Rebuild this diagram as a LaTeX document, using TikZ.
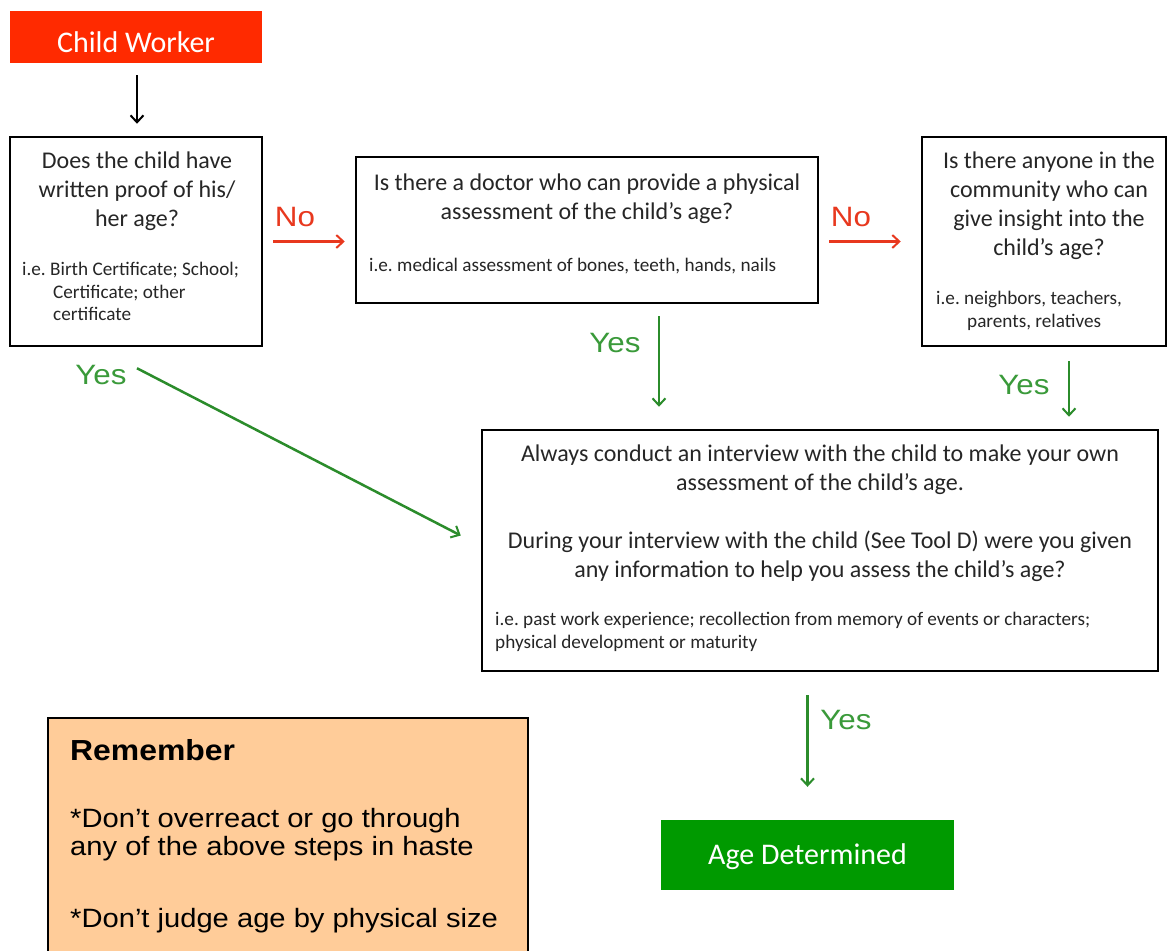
\documentclass[tikz,border=0pt]{standalone}
\usepackage{fontspec}
\setmainfont{Carlito}
\newfontfamily\arialf{Liberation Sans}[FakeStretch=1.1]
\newfontfamily\arialw{Liberation Sans}[FakeStretch=1.12]
\usetikzlibrary{arrows.meta,calc}
\definecolor{cwred}{HTML}{FF2A00}
\definecolor{nored}{HTML}{E8381E}
\definecolor{yesgreen}{HTML}{2B8C2B}
\definecolor{yestext}{HTML}{3A9A3A}
\definecolor{agegreen}{HTML}{009A00}
\definecolor{remfill}{HTML}{FFCC99}
\frenchspacing
\begin{document}
\begin{tikzpicture}[x=1pt,y=-1pt,
  qbox/.style={draw=black,line width=2.5pt,inner sep=0pt,fill=white},
  maintxt/.style={font=\fontsize{24}{29}\selectfont,align=center,inner sep=0pt,anchor=north,text=black!85},
  smalltxt/.style={font=\fontsize{19.2}{22.5}\selectfont,align=left,inner sep=0pt,anchor=north west,text=black!85},
  lab/.style={font=\arialw\fontsize{28}{28}\selectfont,inner sep=0pt},
  nolab/.style={lab,text=nored},
  yeslab/.style={lab,text=yestext},
  tip/.style={-{Straight Barb[length=7pt,width=13pt,line width=2pt]}},
  noarrow/.style={draw=nored,line width=2.5pt,tip},
  yesarrow/.style={draw=yesgreen,line width=2.5pt,tip},
  blackarrow/.style={draw=black,line width=2.5pt,tip},
  remtxt/.style={font=\arialf\fontsize{26.5}{28}\selectfont,align=left,inner sep=0pt,anchor=north west},
  whitetxt/.style={inner sep=0pt,text=white,font=\fontsize{30}{30}\selectfont}
]
\useasboundingbox (0,0) rectangle (1168,951);
\fill[white] (0,0) rectangle (1168,951);

% boxes
\node[fill=cwred,minimum width=252pt,minimum height=52pt,inner sep=0pt] (cw) at (136,37) {};
\node[whitetxt] (cwt) at (136,42) {Child Worker};
\node[qbox,minimum width=252pt,minimum height=209pt] (b1) at (136,241.5) {};
\node[qbox,minimum width=462pt,minimum height=146pt] (b2) at (587,230) {};
\node[qbox,minimum width=244pt,minimum height=209pt] (b3) at (1044,241.5) {};
\node[qbox,minimum width=676pt,minimum height=241pt] (b4) at (820,550.5) {};
\node[fill=agegreen,minimum width=293pt,minimum height=70pt,inner sep=0pt] (age) at (807.5,855) {};
\node[whitetxt] (aget) at (807.5,857) {Age Determined};
\node[draw=black,line width=2pt,fill=remfill,minimum width=480pt,minimum height=244pt] (rem) at (288,840) {};

% texts
\node[maintxt] (t1) at (137,152) {Does the child have\\written proof of his/\\her age?};
\node[smalltxt] (s1) at (22,262) {i.e. Birth Certificate; School;\\\hspace*{31pt}Certificate; other\\\hspace*{31pt}certificate};
\node[maintxt] (t2) at (587,174) {Is there a doctor who can provide a physical\\assessment of the child’s age?};
\node[smalltxt] (s2) at (369,258) {i.e. medical assessment of bones, teeth, hands, nails};
\node[maintxt] (t3) at (1049,152) {Is there anyone in the\\community who can\\give insight into the\\child’s age?};
\node[smalltxt] (s3) at (936,291) {i.e. neighbors, teachers,\\\hspace*{31pt}parents, relatives};
\node[maintxt] (t4) at (820,445) {Always conduct an interview with the child to make your own\\assessment of the child’s age.\\[29pt]During your interview with the child (See Tool D) were you given\\any information to help you assess the child’s age?};
\node[smalltxt] (s4) at (495,612) {i.e. past work experience; recollection from memory of events or characters;\\physical development or maturity};

\node[remtxt,font=\arialf\bfseries\fontsize{29}{29}\selectfont] (rt) at (70,739) {Remember};
\node[remtxt] (r1) at (70,808) {*Don’t overreact or go through\\any of the above steps in haste};
\node[remtxt] (r2) at (70,908) {*Don’t judge age by physical size};

% labels
\node[nolab] (no1) at (295,217) {No};
\node[nolab] (no2) at (851,217) {No};
\node[yeslab] (y1) at (101,375) {Yes};
\node[yeslab] (y2) at (615,343) {Yes};
\node[yeslab] (y3) at (1024,385) {Yes};
\node[yeslab] (y4) at (846,720) {Yes};

% connectors
\draw[blackarrow,shorten <=12pt,shorten >=12pt] (cw.south -| 137,0) -- (b1.north -| 137,0);
\draw[noarrow,shorten <=10pt,shorten >=10pt] (b1.east) -- (b1.east -| b2.west);
\draw[noarrow,shorten <=10pt,shorten >=20pt] (b3.west -| b2.east) -- (b3.west);
\draw[yesarrow] ($(b1.south)+(1,21)$) -- ($(b4.west)+(-20,-15)$);
\coordinate (c2) at (659,0);
\draw[yesarrow,shorten <=12pt,shorten >=22pt] (b2.south -| c2) -- (b4.north -| c2);
\coordinate (c3) at (1069,0);
\draw[yesarrow,shorten <=14pt,shorten >=12pt] (b3.south -| c3) -- (b4.north -| c3);
\draw[yesarrow,shorten <=23pt,shorten >=33pt] (b4.south -| age.north) -- (age.north);
\end{tikzpicture}
\end{document}
